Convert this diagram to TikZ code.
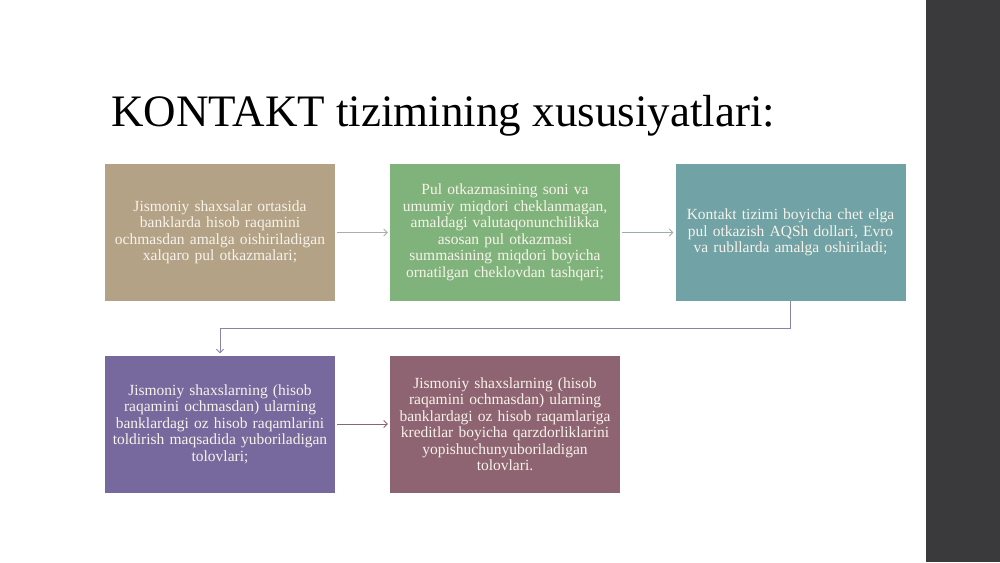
\documentclass[tikz,border=0pt]{standalone}
\usepackage{fontspec}
\setmainfont{Liberation Serif}
\usetikzlibrary{arrows.meta}
\definecolor{cbA}{HTML}{B4A286}
\definecolor{cbB}{HTML}{80B37C}
\definecolor{cbC}{HTML}{71A2A5}
\definecolor{cbD}{HTML}{77689E}
\definecolor{cbE}{HTML}{8E6472}
\definecolor{cbar}{HTML}{3A393B}
\definecolor{ctxt}{HTML}{F7F3EA}
\definecolor{cln}{HTML}{A9B0A9}
\definecolor{celb}{HTML}{8784A8}
\tikzset{
  infobox/.style={inner sep=0pt, minimum width=230pt, minimum height=137pt,
    text width=222pt, align=center, text=ctxt,
    font=\fontsize{15.5}{16.5}\selectfont},
  arr/.style={line width=0.8pt, -{Straight Barb[length=3.5pt,width=7pt]},
    shorten <=2pt, shorten >=2pt}
}
\begin{document}
\begin{tikzpicture}[x=1pt,y=-1pt]
\useasboundingbox (0,0) rectangle (1000,562);
\fill[white] (0,0) rectangle (926,562);
\fill[cbar] (926,0) rectangle (1000,562);
\node[anchor=base west, inner sep=0pt, font=\fontsize{45}{50}\selectfont] (title) at (111,126) {KONTAKT tizimining xususiyatlari:};
\node[infobox, fill=cbA] (b1) at (220,232.5) {Jismoniy shaxsalar ortasida\\ banklarda hisob raqamini\\ ochmasdan amalga oishiriladigan\\ xalqaro pul otkazmalari;};
\node[infobox, fill=cbB] (b2) at (505,232.5) {Pul otkazmasining soni va\\ umumiy miqdori cheklanmagan,\\ amaldagi valutaqonunchilikka\\ asosan pul otkazmasi\\ summasining miqdori boyicha\\ ornatilgan cheklovdan tashqari;};
\node[infobox, fill=cbC] (b3) at (790.5,232.5) {Kontakt tizimi boyicha chet elga\\ pul otkazish AQSh dollari, Evro\\ va rubllarda amalga oshiriladi;};
\node[infobox, fill=cbD] (b4) at (220,424) {Jismoniy shaxslarning (hisob\\ raqamini ochmasdan) ularning\\ banklardagi oz hisob raqamlarini\\ toldirish maqsadida yuboriladigan\\ tolovlari;};
\node[infobox, fill=cbE] (b5) at (505,424) {Jismoniy shaxslarning (hisob\\ raqamini ochmasdan) ularning\\ banklardagi oz hisob raqamlariga\\ kreditlar boyicha qarzdorliklarini\\ yopishuchunyuboriladigan\\ tolovlari.};
\draw[arr, draw=cln] (b1) -- (b2);
\draw[arr, draw=cln!80!cbC] (b2) -- (b3);
\draw[arr, draw=celb, shorten <=0pt] (b3.south) -- ++(0,27) -| (b4.north);
\draw[arr, draw=cbE] (b4) -- (b5);
\end{tikzpicture}
\end{document}
